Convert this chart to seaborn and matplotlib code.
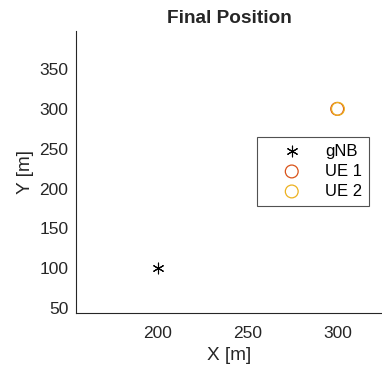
import numpy as np
import pandas as pd
import matplotlib
matplotlib.use('Agg')
import matplotlib.pyplot as plt
import seaborn as sns

# positions
gnb_x = [200]
gnb_y = [100]
ue1_x = [299.6]
ue1_y = [300]
ue2_x = [300]
ue2_y = [300]
labels = ['gNB', 'UE 1', 'UE 2']

sns.set_style('white')
plt.rcParams['font.family'] = ['Liberation Sans', 'DejaVu Sans']

fig = plt.figure(figsize=(3.82, 3.67), dpi=100)
ax = fig.add_axes([0.199, 0.147, 0.801, 0.768])

sns.scatterplot(x=gnb_x, y=gnb_y, ax=ax, marker=(6, 2, 0), s=60, color='black',
                linewidth=0.8, label=labels[0])
sns.scatterplot(x=ue1_x, y=ue1_y, ax=ax, marker='o', s=85, facecolor='none',
                edgecolor='#D95319', linewidth=0.9, label=labels[1])
sns.scatterplot(x=ue2_x, y=ue2_y, ax=ax, marker='o', s=85, facecolor='none',
                edgecolor='#EDB120', linewidth=0.9, label=labels[2])

ax.set_xlim(154.4, 324.5)
ax.set_ylim(43.75, 397.5)
ax.set_xticks([200, 250, 300])
ax.set_yticks([50, 100, 150, 200, 250, 300, 350])
ax.tick_params(direction='in', length=3.5, width=0.7, colors='#262626', labelsize=12.5)
ax.tick_params(axis='x', pad=9)
ax.tick_params(axis='y', pad=5.5)
for s in ['top', 'right']:
    ax.spines[s].set_visible(False)
for s in ['left', 'bottom']:
    ax.spines[s].set_color('#262626')
    ax.spines[s].set_linewidth(0.8)

ax.set_xlabel('X [m]', fontsize=13.7, color='#262626', labelpad=5)
ax.set_ylabel('Y [m]', fontsize=13.7, color='#262626', labelpad=4)
ax.set_title('Final Position', fontsize=13.7, fontweight='bold', pad=6)

leg = ax.legend(loc='upper left', bbox_to_anchor=(0.592, 0.624), borderaxespad=0,
                fontsize=12, frameon=True, fancybox=False, handletextpad=0.35,
                labelspacing=0.3, borderpad=0.4, handlelength=3.35)
leg.get_frame().set_edgecolor('#262626')
leg.get_frame().set_linewidth(0.8)
for t in leg.get_texts():
    t.set_color('black')

fig.savefig('out.png', dpi=100)
